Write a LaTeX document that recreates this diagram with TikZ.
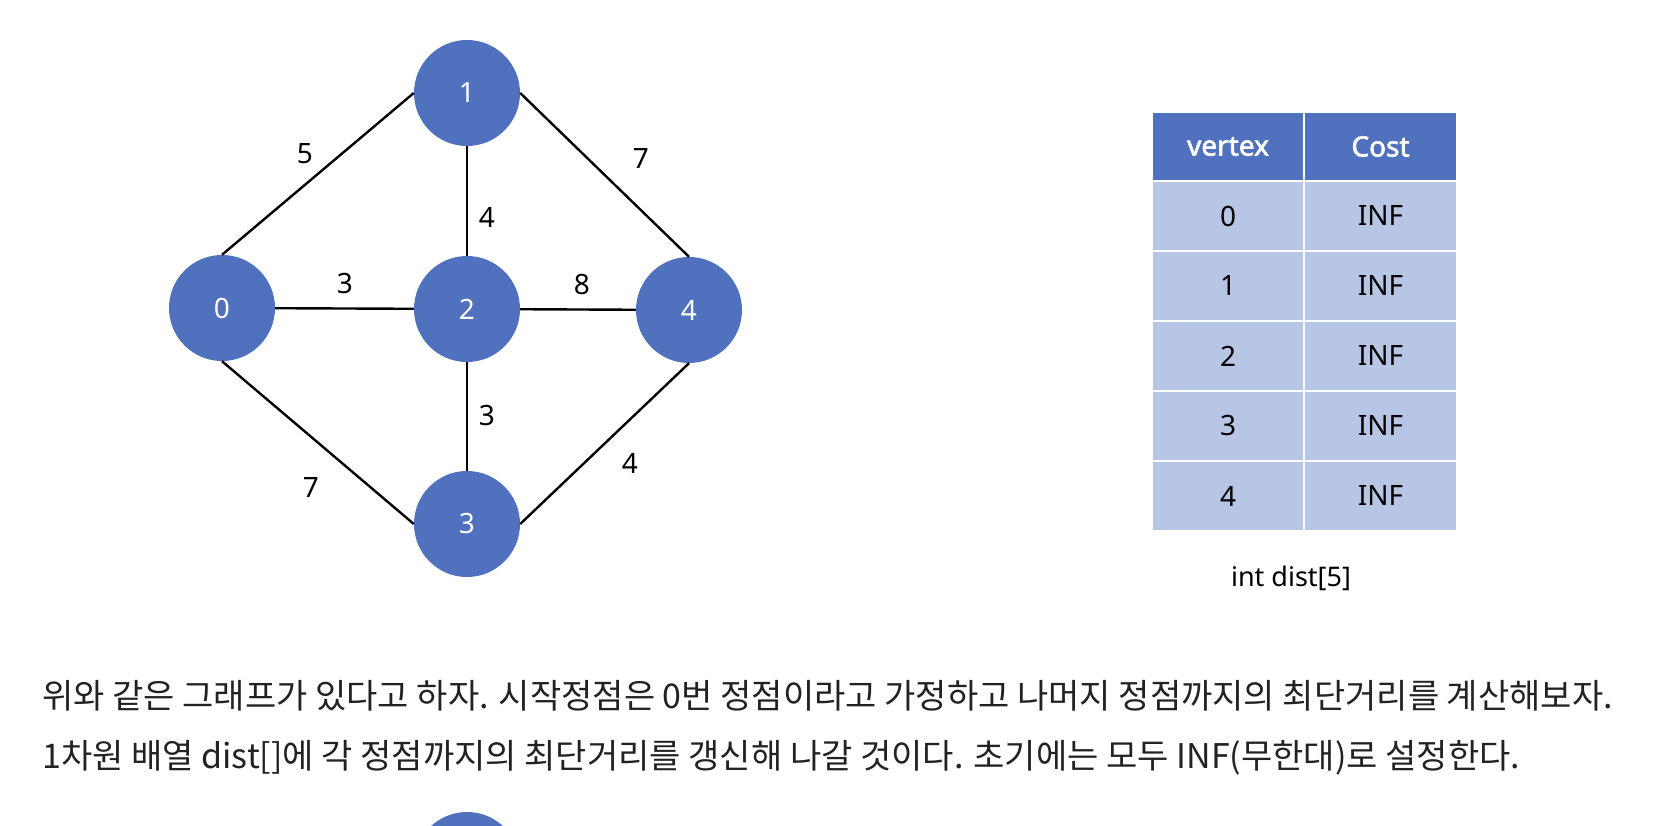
\documentclass[tikz,border=0pt]{standalone}
\usepackage{fontspec}
\usepackage{xcolor}
\setmainfont{Noto Sans}
\newfontfamily\krfont{Noto Sans CJK KR}
\newfontfamily\headfont{Noto Sans}[FakeBold=2.2]
\definecolor{nodeblue}{RGB}{79,113,190}
\definecolor{rowblue}{RGB}{183,198,229}
\definecolor{bodytext}{RGB}{34,34,34}

\begin{document}
\begin{tikzpicture}[x=1pt,y=-1pt,
    vertex/.style={circle,fill=nodeblue,minimum size=106pt,inner sep=0pt,text=white,font=\fontsize{28}{30}\selectfont},
    wlabel/.style={inner sep=0pt,font=\fontsize{28}{30}\selectfont},
    link/.style={line width=2.4pt},
    headcell/.style={rectangle,fill=nodeblue,draw=white,line width=2.5pt,minimum height=69pt,text=white,font=\headfont\fontsize{28}{30}\selectfont},
    cell/.style={rectangle,fill=rowblue,draw=white,line width=2.5pt,minimum height=70pt,font=\fontsize{28}{30}\selectfont},
    bodyline/.style={anchor=west,inner sep=0pt,text=bodytext,font=\krfont\fontsize{34}{38}\selectfont}]
    \useasboundingbox (0,0) rectangle (1666,826);

    % graph
    \node [vertex] (v0) at (222,308) {0};
    \node [vertex] (v1) at (467,93) {1};
    \node [vertex] (v2) at (467,309) {2};
    \node [vertex] (v3) at (467,524) {3};
    \node [vertex] (v4) at (689,310) {4};

    \draw [link] (v0.north) -- (v1.west);
    \draw [link] (v1.east) -- (v4.north);
    \draw [link] (v0.south) -- (v3.west);
    \draw [link] (v3.east) -- (v4.south);
    \draw [link] (v0) -- (v2);
    \draw [link] (v2) -- (v4);
    \draw [link] (v1) -- (v2);
    \draw [link] (v2) -- (v3);

    \node [wlabel] (w01) at (305,154) {5};
    \node [wlabel] (w14) at (641,159) {7};
    \node [wlabel] (w12) at (487,217) {4};
    \node [wlabel] (w02) at (345,284) {3};
    \node [wlabel] (w24) at (582,285) {8};
    \node [wlabel] (w23) at (487,416) {3};
    \node [wlabel] (w03) at (311,488) {7};
    \node [wlabel] (w34) at (630,463) {4};

    % dist table
    \node [headcell,minimum width=152pt] (hvert) at (1228,146.5) {vertex};
    \node [headcell,minimum width=153pt] (hcost) at (1380.5,146.5) {Cost};
    \node [cell,minimum width=152pt] (r0) at (1228,216) {0};
    \node [cell,minimum width=153pt] (c0) at (1380.5,216) {INF};
    \node [cell,minimum width=152pt] (r1) at (1228,286) {1};
    \node [cell,minimum width=153pt] (c1) at (1380.5,286) {INF};
    \node [cell,minimum width=152pt] (r2) at (1228,356) {2};
    \node [cell,minimum width=153pt] (c2) at (1380.5,356) {INF};
    \node [cell,minimum width=152pt] (r3) at (1228,426) {3};
    \node [cell,minimum width=153pt] (c3) at (1380.5,426) {INF};
    \node [cell,minimum width=152pt] (r4) at (1228,496) {4};
    \node [cell,minimum width=153pt] (c4) at (1380.5,496) {INF};
    \node [font=\fontsize{27}{30}\selectfont] (caption) at (1291,578) {int dist[5]};

    % text below
    \node [bodyline] (line1) at (42,696) {위와 같은 그래프가 있다고 하자. 시작정점은 0번 정점이라고 가정하고 나머지 정점까지의 최단거리를 계산해보자.};
    \node [bodyline] (line2) at (42,758) {1차원 배열 dist[]에 각 정점까지의 최단거리를 갱신해 나갈 것이다. 초기에는 모두 INF(무한대)로 설정한다.};

    % next figure, cut off
    \node [vertex] (next1) at (467,865) {};
\end{tikzpicture}
\end{document}
